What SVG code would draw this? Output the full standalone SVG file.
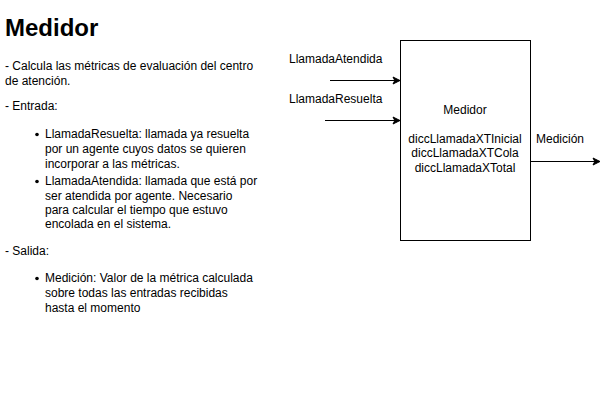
<svg xmlns="http://www.w3.org/2000/svg" width="609" height="401" viewBox="0 0 609 401">
<defs>
<style>
text{font-family:"Liberation Sans",Arial,sans-serif;font-size:12px;fill:#000}
.title{font-size:24px;font-weight:bold}
.c{text-anchor:middle}
.edge{stroke:#000;stroke-width:1;fill:none}
</style>
<marker id="arr" markerWidth="10" markerHeight="10" refX="8" refY="5" orient="auto" markerUnits="userSpaceOnUse">
<path d="M1,1.5 L8,5 L1,8.5 L2.8,5 Z" fill="#000" stroke="#000"/>
</marker>
</defs>
<rect width="609" height="401" fill="#fff"/>
<g id="description">
<text class="title" x="5" y="36">Medidor</text>
<text x="5" y="70">- Calcula las métricas de evaluación del centro</text>
<text x="5" y="85">de atención.</text>
<text x="5" y="110">- Entrada:</text>
<circle cx="37" cy="134.5" r="1.8"/>
<text x="45" y="138">LlamadaResuelta: llamada ya resuelta</text>
<text x="45" y="153">por un agente cuyos datos se quieren</text>
<text x="45" y="168">incorporar a las métricas.</text>
<circle cx="37" cy="181.5" r="1.8"/>
<text x="45" y="185">LlamadaAtendida: llamada que está por</text>
<text x="45" y="200">ser atendida por agente. Necesario</text>
<text x="45" y="214">para calcular el tiempo que estuvo</text>
<text x="45" y="228">encolada en el sistema.</text>
<text x="5" y="255">- Salida:</text>
<circle cx="37" cy="278.5" r="1.8"/>
<text x="45" y="282">Medición: Valor de la métrica calculada</text>
<text x="45" y="297">sobre todas las entradas recibidas</text>
<text x="45" y="312">hasta el momento</text>
</g>
<g id="medidor">
<rect x="400.5" y="40.5" width="130" height="200" fill="#fff" stroke="#000"/>
<text class="c" x="465" y="114">Medidor</text>
<text class="c" x="465" y="143">diccLlamadaXTInicial</text>
<text class="c" x="465" y="157">diccLlamadaXTCola</text>
<text class="c" x="465" y="172">diccLlamadaXTotal</text>
</g>
<g id="connectors">
<path class="edge" d="M330,80.5 L400,80.5" marker-end="url(#arr)"/>
<path class="edge" d="M325,120.5 L400,120.5" marker-end="url(#arr)"/>
<path class="edge" d="M530,161.5 L600,161.5" marker-end="url(#arr)"/>
</g>
<g id="labels">
<text x="289" y="63">LlamadaAtendida</text>
<text x="289" y="103">LlamadaResuelta</text>
<text x="536" y="143">Medición</text>
</g>
</svg>
